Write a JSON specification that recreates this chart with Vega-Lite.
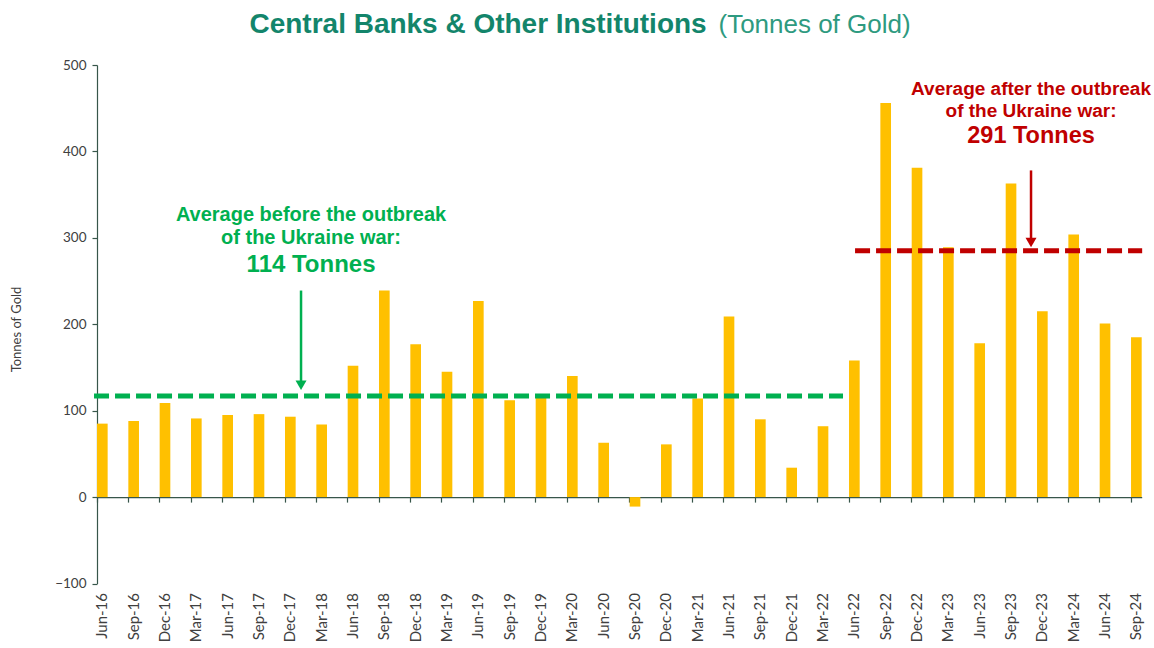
{
  "$schema": "https://vega.github.io/schema/vega-lite/v6.json",
  "width": 1044.7,
  "height": 518.5,
  "autosize": {"type": "none"},
  "padding": {"left": 97, "top": 65, "right": 12, "bottom": 65},
  "background": "white",
  "datasets": {
    "bars": [
      {"q": "Jun-16", "v": 85}, {"q": "Sep-16", "v": 88}, {"q": "Dec-16", "v": 109},
      {"q": "Mar-17", "v": 91}, {"q": "Jun-17", "v": 95}, {"q": "Sep-17", "v": 96},
      {"q": "Dec-17", "v": 93}, {"q": "Mar-18", "v": 84}, {"q": "Jun-18", "v": 152},
      {"q": "Sep-18", "v": 239}, {"q": "Dec-18", "v": 177}, {"q": "Mar-19", "v": 145},
      {"q": "Jun-19", "v": 227}, {"q": "Sep-19", "v": 112}, {"q": "Dec-19", "v": 115},
      {"q": "Mar-20", "v": 140}, {"q": "Jun-20", "v": 63}, {"q": "Sep-20", "v": -11},
      {"q": "Dec-20", "v": 61}, {"q": "Mar-21", "v": 114}, {"q": "Jun-21", "v": 209},
      {"q": "Sep-21", "v": 90}, {"q": "Dec-21", "v": 34}, {"q": "Mar-22", "v": 82},
      {"q": "Jun-22", "v": 158}, {"q": "Sep-22", "v": 456}, {"q": "Dec-22", "v": 381},
      {"q": "Mar-23", "v": 289}, {"q": "Jun-23", "v": 178}, {"q": "Sep-23", "v": 363},
      {"q": "Dec-23", "v": 215}, {"q": "Mar-24", "v": 304}, {"q": "Jun-24", "v": 201},
      {"q": "Sep-24", "v": 185}
    ],
    "averages": [
      {"group": "before", "q": "Jun-16", "q2": "Mar-22", "v": 117},
      {"group": "after", "q": "Jun-22", "q2": "Sep-24", "v": 285}
    ],
    "arrows": [
      {"group": "before", "q": "Dec-17", "top": 239, "tip": 124},
      {"group": "after", "q": "Sep-23", "top": 378, "tip": 289}
    ],
    "notes": [
      {"group": "before", "role": "text", "q": "Dec-17", "v": 326, "t": "Average before the outbreak"},
      {"group": "before", "role": "text", "q": "Dec-17", "v": 299.5, "t": "of the Ukraine war:"},
      {"group": "before", "role": "value", "q": "Dec-17", "v": 268, "t": "114 Tonnes"},
      {"group": "after", "role": "text", "q": "Sep-23", "v": 472.5, "t": "Average after the outbreak"},
      {"group": "after", "role": "text", "q": "Sep-23", "v": 447, "t": "of the Ukraine war:"},
      {"group": "after", "role": "value", "q": "Sep-23", "v": 418, "t": "291 Tonnes"}
    ]
  },
  "encoding": {
    "x": {
      "field": "q", "type": "nominal", "sort": null,
      "scale": {"domain": ["Jun-16","Sep-16","Dec-16","Mar-17","Jun-17","Sep-17","Dec-17","Mar-18","Jun-18","Sep-18","Dec-18","Mar-19","Jun-19","Sep-19","Dec-19","Mar-20","Jun-20","Sep-20","Dec-20","Mar-21","Jun-21","Sep-21","Dec-21","Mar-22","Jun-22","Sep-22","Dec-22","Mar-23","Jun-23","Sep-23","Dec-23","Mar-24","Jun-24","Sep-24"], "paddingInner": 0.66, "paddingOuter": 0},
      "axis": null
    }
  },
  "layer": [
    {
      "data": {"name": "bars"},
      "mark": {"type": "bar", "color": "#FFC000"},
      "encoding": {
        "x": {
          "field": "q", "type": "nominal", "sort": null,
          "scale": {"domain": ["Jun-16","Sep-16","Dec-16","Mar-17","Jun-17","Sep-17","Dec-17","Mar-18","Jun-18","Sep-18","Dec-18","Mar-19","Jun-19","Sep-19","Dec-19","Mar-20","Jun-20","Sep-20","Dec-20","Mar-21","Jun-21","Sep-21","Dec-21","Mar-22","Jun-22","Sep-22","Dec-22","Mar-23","Jun-23","Sep-23","Dec-23","Mar-24","Jun-24","Sep-24"], "paddingInner": 0.66, "paddingOuter": 0},
          "axis": {
            "orient": "bottom", "title": null, "domain": false, "ticks": false, "tickSize": 0,
            "labelAngle": 270, "labelAlign": "right", "labelBaseline": "middle",
            "labelPadding": 9, "labelFont": "Lato", "labelFontSize": 15, "labelColor": "#404040"
          }
        },
        "y": {
          "field": "v", "type": "quantitative",
          "scale": {"domain": [-100, 500], "nice": false},
          "axis": {
            "values": [-100, 0, 100, 200, 300, 400, 500], "grid": false,
            "domainColor": "#37564A", "domainWidth": 1.2, "tickColor": "#37564A", "tickWidth": 1.2, "tickSize": 5,
            "labelFont": "Lato", "labelFontSize": 13.5, "labelColor": "#404040", "labelPadding": 6,
            "title": "Tonnes of Gold", "titleFont": "Lato", "titleFontSize": 13, "titleFontWeight": "normal",
            "titleColor": "#404040", "titleX": -80, "titleY": 264, "titleBaseline": "middle", "titleAngle": 270
          }
        }
      }
    },
    {
      "data": {"name": "averages"},
      "transform": [{"filter": "datum.group === 'before'"}],
      "mark": {"type": "rule", "color": "#00B050", "strokeWidth": 5, "strokeDash": [15, 6], "xOffset": -8.3, "x2Offset": 20},
      "encoding": {
        "x": {
          "field": "q", "type": "nominal", "sort": null,
          "scale": {"domain": ["Jun-16","Sep-16","Dec-16","Mar-17","Jun-17","Sep-17","Dec-17","Mar-18","Jun-18","Sep-18","Dec-18","Mar-19","Jun-19","Sep-19","Dec-19","Mar-20","Jun-20","Sep-20","Dec-20","Mar-21","Jun-21","Sep-21","Dec-21","Mar-22","Jun-22","Sep-22","Dec-22","Mar-23","Jun-23","Sep-23","Dec-23","Mar-24","Jun-24","Sep-24"], "paddingInner": 0.66, "paddingOuter": 0},
          "axis": {
            "orient": "bottom", "offset": -86.4, "title": null, "labels": false,
            "domain": true, "domainColor": "#37564A", "domainWidth": 1.2,
            "ticks": true, "tickColor": "#37564A", "tickWidth": 1.2, "tickSize": 5, "bandPosition": 0
          }
        },
        "x2": {"field": "q2"},
        "y": {"field": "v", "type": "quantitative"}
      }
    },
    {
      "data": {"name": "averages"},
      "transform": [{"filter": "datum.group === 'after'"}],
      "mark": {"type": "rule", "color": "#C00000", "strokeWidth": 5, "strokeDash": [15, 6], "xOffset": 0.7, "x2Offset": 5.8},
      "encoding": {
        "x": {
          "field": "q", "type": "nominal", "sort": null,
          "scale": {"domain": ["Jun-16","Sep-16","Dec-16","Mar-17","Jun-17","Sep-17","Dec-17","Mar-18","Jun-18","Sep-18","Dec-18","Mar-19","Jun-19","Sep-19","Dec-19","Mar-20","Jun-20","Sep-20","Dec-20","Mar-21","Jun-21","Sep-21","Dec-21","Mar-22","Jun-22","Sep-22","Dec-22","Mar-23","Jun-23","Sep-23","Dec-23","Mar-24","Jun-24","Sep-24"], "paddingInner": 0.66, "paddingOuter": 0},
          "axis": {
            "orient": "top", "domain": false, "ticks": false, "labels": false, "grid": false,
            "title": "(Tonnes of Gold)", "titleFont": "Liberation Sans", "titleFontSize": 26, "titleFontWeight": "normal",
            "titleColor": "#2E9A80", "titleX": 621, "titleY": -32.5, "titleAlign": "left", "titleBaseline": "alphabetic", "titleAngle": 0
          }
        },
        "x2": {"field": "q2"},
        "y": {"field": "v", "type": "quantitative"}
      }
    },
    {
      "data": {"name": "arrows"},
      "transform": [{"filter": "datum.group === 'before'"}],
      "mark": {"type": "rule", "color": "#00B050", "strokeWidth": 2.5, "xOffset": 10.7, "y2Offset": -6},
      "encoding": {
        "x": {
          "field": "q", "type": "nominal", "sort": null,
          "scale": {"domain": ["Jun-16","Sep-16","Dec-16","Mar-17","Jun-17","Sep-17","Dec-17","Mar-18","Jun-18","Sep-18","Dec-18","Mar-19","Jun-19","Sep-19","Dec-19","Mar-20","Jun-20","Sep-20","Dec-20","Mar-21","Jun-21","Sep-21","Dec-21","Mar-22","Jun-22","Sep-22","Dec-22","Mar-23","Jun-23","Sep-23","Dec-23","Mar-24","Jun-24","Sep-24"], "paddingInner": 0.66, "paddingOuter": 0},
          "axis": {
            "orient": "top", "domain": false, "ticks": false, "labels": false, "grid": false,
            "title": "Central Banks & Other Institutions", "titleFont": "Liberation Sans", "titleFontSize": 28, "titleFontWeight": "bold",
            "titleColor": "#13856B", "titleX": 152, "titleY": -32.5, "titleAlign": "left", "titleBaseline": "alphabetic", "titleAngle": 0
          }
        },
        "y": {"field": "top", "type": "quantitative"},
        "y2": {"field": "tip"}
      }
    },
    {
      "data": {"name": "arrows"},
      "transform": [{"filter": "datum.group === 'before'"}],
      "mark": {"type": "point", "shape": "triangle-down", "filled": true, "color": "#00B050", "opacity": 1, "size": 121, "xOffset": 10.7, "yOffset": -4.75},
      "encoding": {
        "y": {"field": "tip", "type": "quantitative"}
      }
    },
    {
      "data": {"name": "arrows"},
      "transform": [{"filter": "datum.group === 'after'"}],
      "mark": {"type": "rule", "color": "#C00000", "strokeWidth": 2.5, "xOffset": 20, "y2Offset": -6},
      "encoding": {
        "y": {"field": "top", "type": "quantitative"},
        "y2": {"field": "tip"}
      }
    },
    {
      "data": {"name": "arrows"},
      "transform": [{"filter": "datum.group === 'after'"}],
      "mark": {"type": "point", "shape": "triangle-down", "filled": true, "color": "#C00000", "opacity": 1, "size": 121, "xOffset": 20, "yOffset": -4.75},
      "encoding": {
        "y": {"field": "tip", "type": "quantitative"}
      }
    },
    {
      "data": {"name": "notes"},
      "transform": [{"filter": "datum.group === 'before' && datum.role === 'text'"}],
      "mark": {"type": "text", "color": "#00B050", "font": "Liberation Sans", "fontWeight": "bold", "fontSize": 20, "align": "center", "baseline": "middle", "xOffset": 20.7},
      "encoding": {
        "y": {"field": "v", "type": "quantitative"},
        "text": {"field": "t"}
      }
    },
    {
      "data": {"name": "notes"},
      "transform": [{"filter": "datum.group === 'before' && datum.role === 'value'"}],
      "mark": {"type": "text", "color": "#00B050", "font": "Liberation Sans", "fontWeight": "bold", "fontSize": 24, "align": "center", "baseline": "middle", "xOffset": 20.7},
      "encoding": {
        "y": {"field": "v", "type": "quantitative"},
        "text": {"field": "t"}
      }
    },
    {
      "data": {"name": "notes"},
      "transform": [{"filter": "datum.group === 'after' && datum.role === 'text'"}],
      "mark": {"type": "text", "color": "#C00000", "font": "Liberation Sans", "fontWeight": "bold", "fontSize": 19, "align": "center", "baseline": "middle", "xOffset": 20},
      "encoding": {
        "y": {"field": "v", "type": "quantitative"},
        "text": {"field": "t"}
      }
    },
    {
      "data": {"name": "notes"},
      "transform": [{"filter": "datum.group === 'after' && datum.role === 'value'"}],
      "mark": {"type": "text", "color": "#C00000", "font": "Liberation Sans", "fontWeight": "bold", "fontSize": 23.5, "align": "center", "baseline": "middle", "xOffset": 20},
      "encoding": {
        "y": {"field": "v", "type": "quantitative"},
        "text": {"field": "t"}
      }
    }
  ],
  "resolve": {"axis": {"x": "independent"}},
  "config": {
    "view": {"stroke": null},
    "font": "Lato"
  }
}
